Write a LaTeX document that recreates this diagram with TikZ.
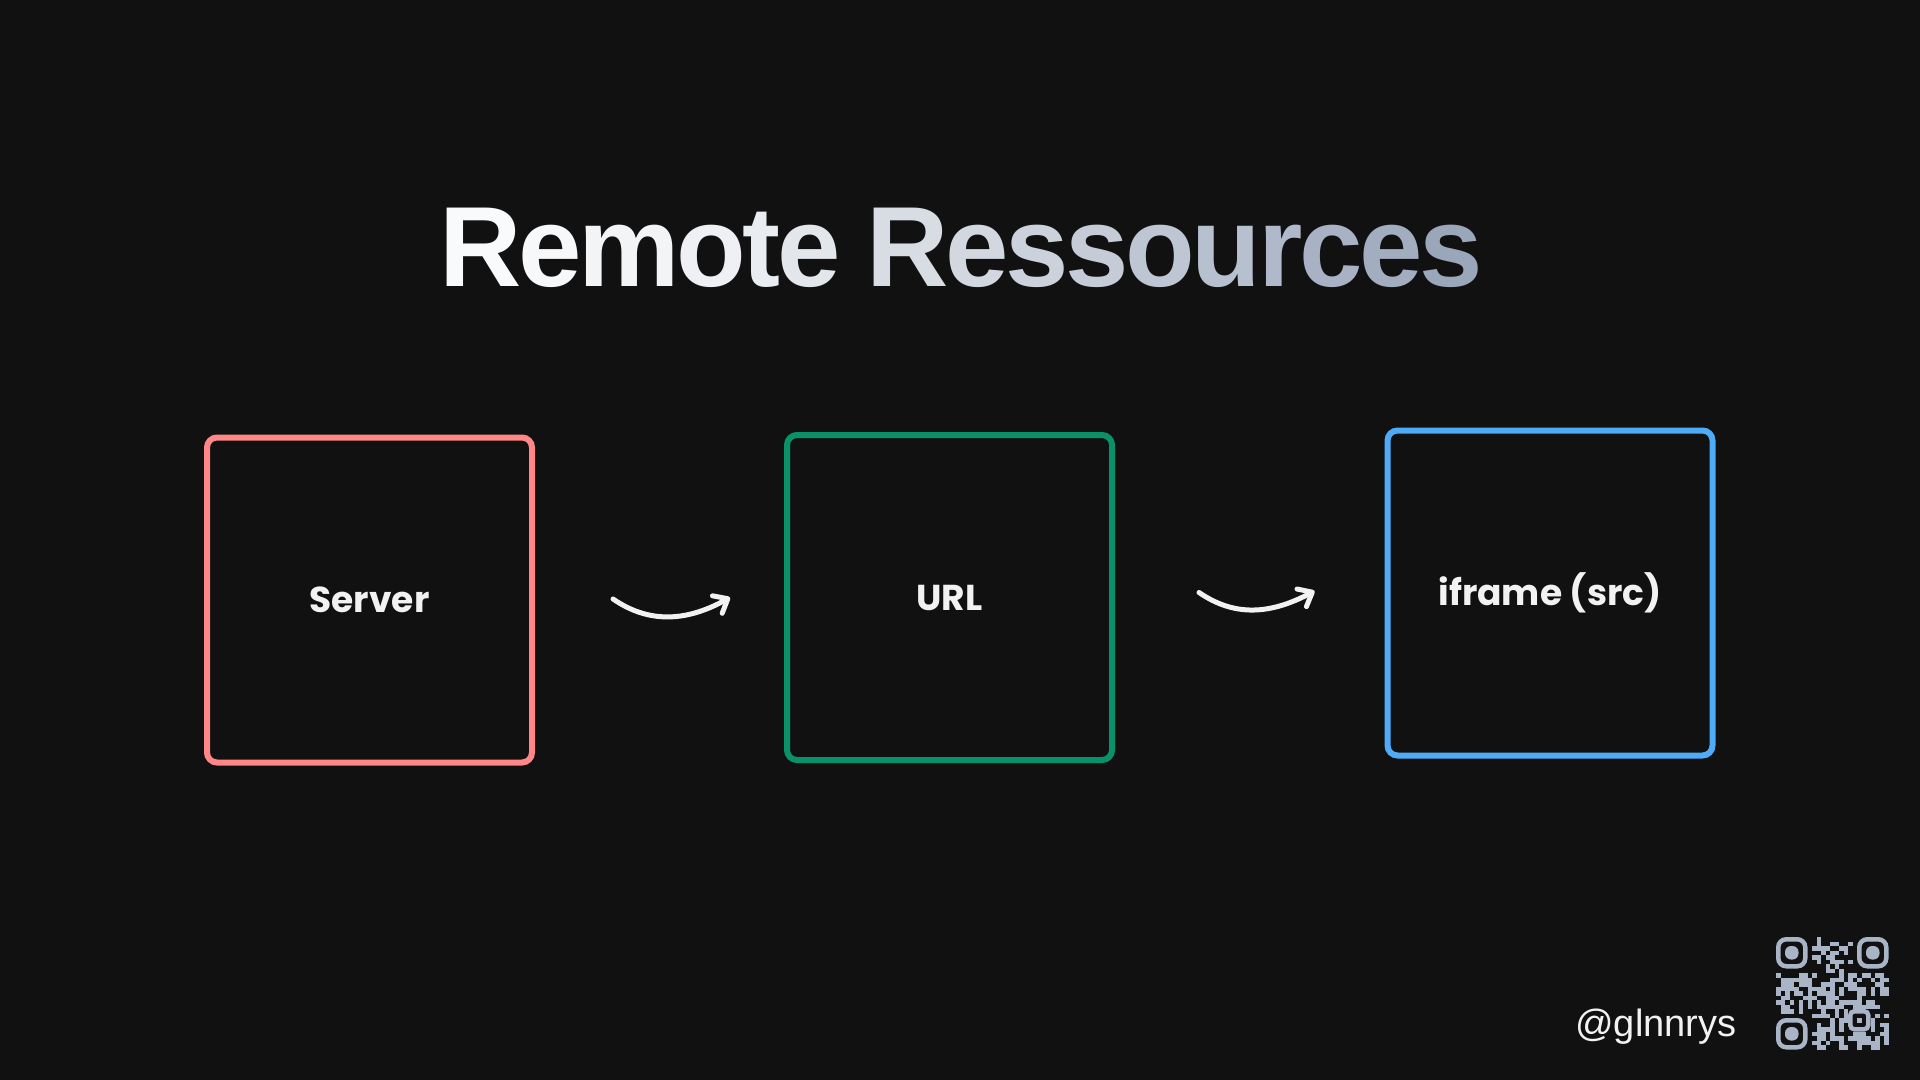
\documentclass[tikz,border=0pt]{standalone}
\usepackage{fontspec}
\usetikzlibrary{
  arrows.meta,
  positioning,
  calc,         % Calculations $...$
}
\setmainfont{Liberation Sans}
\newfontfamily\titlefont{Liberation Sans}
\newfontfamily\handfont{Poppins}
\definecolor{bgdark}{HTML}{111111}
\definecolor{labelwhite}{HTML}{F2F2F2}
\definecolor{serverred}{HTML}{FF8787}
\definecolor{urlgreen}{HTML}{099268}
\definecolor{iframeblue}{HTML}{4DABF7}
\definecolor{titlelight}{HTML}{F9FAFB}
\definecolor{titledark}{HTML}{9AA6BA}
\definecolor{qrgrey}{HTML}{A9B4C7}
\def\myboxsize{162.5pt}
\def\mymod{4.5}
\def\mytrack{-1.65pt}
% title letters, light to dark, tight tracking
\newcommand{\gradletters}[1]{%
  \foreach \ch [count=\k] in {#1}{%
    \pgfmathtruncatemacro\mixpct{100-100*((\k-1)/16)^1.3}%
    \textcolor{titlelight!\mixpct!titledark}{\ch}\kern\mytrack}\kern-\mytrack}
% finder square of the QR code, in modules
\newcommand{\qrfinder}[2]{%
  \draw[qrring, rounded corners=4pt]
    ($(qr)+(#1*\mymod+2.25,#2*\mymod+2.25)$) rectangle ++(27,27);
  \fill[qrgrey, rounded corners=3pt]
    ($(qr)+(#1*\mymod+9,#2*\mymod+9)$) rectangle ++(13.5,13.5);}
\tikzset{
  my box/.style={
    draw=#1,
    line width=3pt,
    rounded corners=5pt,
    minimum width=\myboxsize,
    minimum height=\myboxsize,
    fill=bgdark,
    text=labelwhite,
    font=\handfont\bfseries\fontsize{18}{20}\selectfont
  },
  flow/.style={
    draw=labelwhite,
    line width=2.5pt,
    line cap=round,
    -{Straight Barb[length=6pt,width=10pt,round]}
  },
  title/.style={
    anchor=base,
    inner sep=0pt,
    font=\titlefont\bfseries\fontsize{57}{62}\selectfont
  },
  handle/.style={
    anchor=base west,
    inner sep=0pt,
    text=labelwhite,
    font=\fontsize{19}{22}\selectfont
  },
  qrring/.style={
    draw=qrgrey,
    line width=2.25pt
  }
}
\begin{document}
\begin{tikzpicture}[x=0.5pt,y=-0.5pt]
\useasboundingbox (0,0) rectangle (1920,1080);
\fill[bgdark] (0,0) rectangle (1920,1080);

\node[title] (title) at (961,287)
  {\gradletters{R,e,m,o,t,e,{\ },R,e,s,s,o,u,r,c,e,s}};

\node[my box=serverred]  (server) at (369.5,600) {Server};
\node[my box=urlgreen]   (url)    at (949.5,597.5) {URL};
\node[my box=iframeblue] (iframe) at (1550,593) {iframe (src)};

\coordinate (a1s) at ($(server.east)+(78,-1)$);
\coordinate (a1e) at ($(url.west)+(-54,0)$);
\coordinate (a2s) at ($(url.east)+(84,-5)$);
\coordinate (a2e) at ($(iframe.west)+(-70,-2)$);
\draw[flow] (a1s) .. controls +(35,24) and +(-45,25) .. (a1e);
\draw[flow] (a2s) .. controls +(35,24) and +(-45,24) .. (a2e);

\node[handle] (handle) at (1575,1036) {@glnnrys};

% QR code
\coordinate (qr) at (1776,937);
\qrfinder{0}{0}
\qrfinder{18}{0}
\qrfinder{0}{18}
\draw[qrring, rounded corners=2pt]
  ($(qr)+(16*\mymod+2.25,16*\mymod+2.25)$) rectangle ++(18,18);
\fill[qrgrey] ($(qr)+(18*\mymod,18*\mymod)$) rectangle ++(\mymod,\mymod);
\pgfmathsetseed{11}
\foreach \i in {0,...,24}{
  \foreach \j in {0,...,24}{
    \pgfmathtruncatemacro\qrskip{((\i<8 && \j<8) || (\i>16 && \j<8) || (\i<8 && \j>16) || (\i>15 && \i<21 && \j>15 && \j<21)) ? 1 : 0}
    \pgfmathtruncatemacro\qron{rnd<0.5 ? 1 : 0}
    \ifnum\qrskip=0 \ifnum\qron=1
      \fill[qrgrey] ($(qr)+(\i*\mymod,\j*\mymod)$) rectangle ++(\mymod,\mymod);
    \fi\fi
  }
}
\end{tikzpicture}
\end{document}
